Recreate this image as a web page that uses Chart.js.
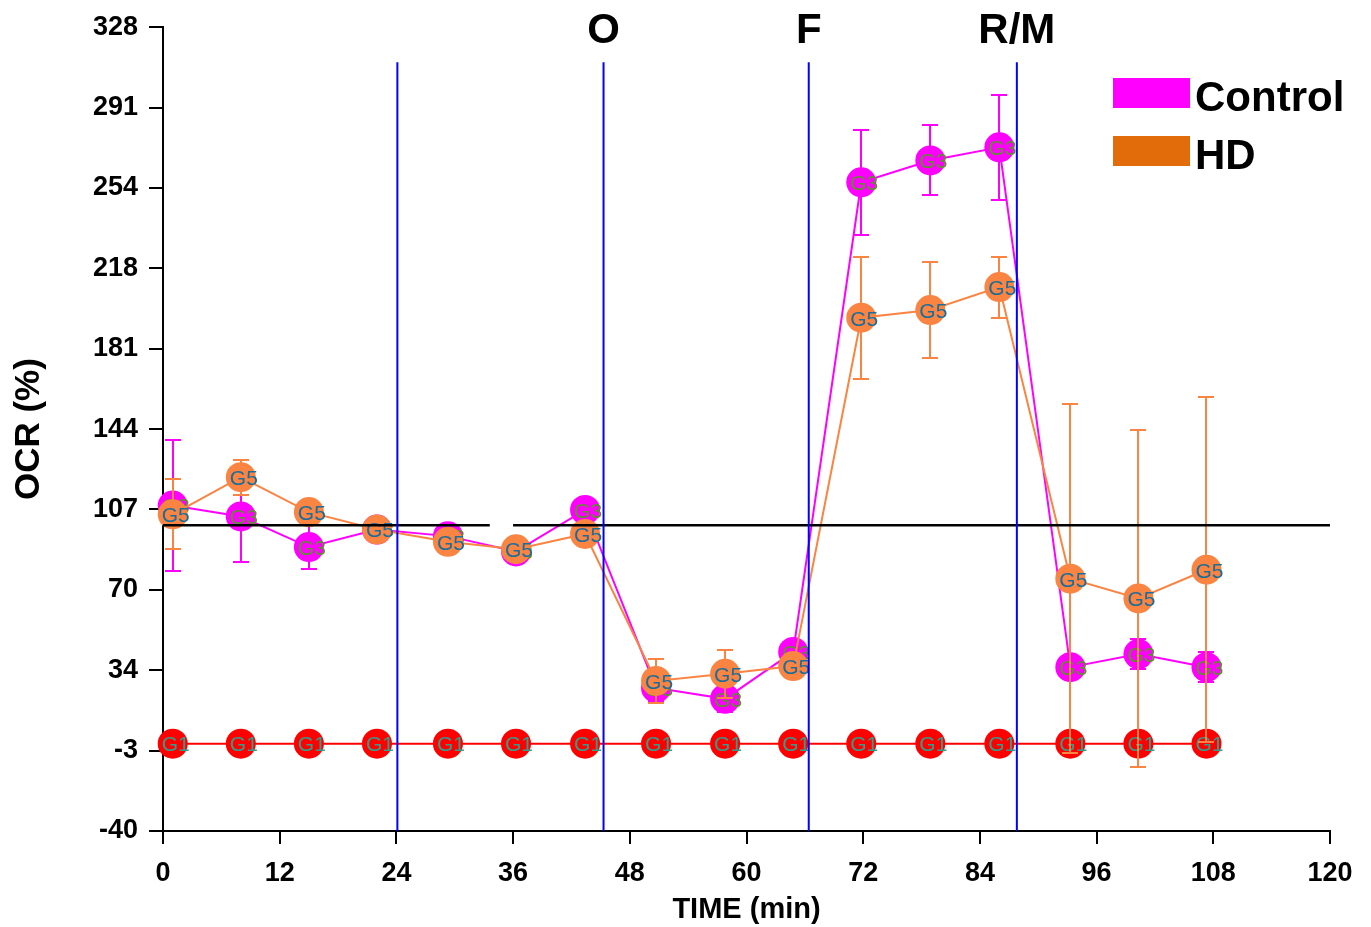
<!DOCTYPE html>
<html>
<head>
<meta charset="utf-8">
<title>OCR (%)</title>
<script src="https://cdn.jsdelivr.net/npm/chart.js@4.4.0/dist/chart.umd.min.js"></script>
<style>
  html, body { margin: 0; padding: 0; background: #fff; }
  canvas { display: block; }
</style>
</head>
<body>
<canvas id="ocrChart" width="1371" height="927"></canvas>
<script>
// measurement times (min)
const times = [1, 8, 15, 22, 29.3, 36.3, 43.4, 50.7, 57.8, 64.8, 71.8, 78.9, 86, 93.3, 100.3, 107.3];

// OCR (% of baseline) with error (+/-)
const controlOcr = [109, 104, 90, 98, 95, 88, 107, 25.5, 20.5, 42, 257, 267, 273, 35, 41, 35];
const controlErr = [30, 21, 10, 3, 4, 3, 4, 6, 6, 3, 24, 16, 24, 3, 7, 7];
const hdOcr = [105, 122, 106, 98, 92.4, 89, 96, 28.7, 32, 35.5, 195, 198.5, 209, 75.5, 66.5, 79.6];
const hdErr = [16, 8, 4, 2, 3, 3, 4, 10, 11, 3, 28, 22, 14, 80, 77, 79];
const g1Ocr = [0, 0, 0, 0, 0, 0, 0, 0, 0, 0, 0, 0, 0, 0, 0, 0];

// injection markers
const injectionTimes = [24.1, 45.3, 66.4, 87.8];
const injectionLabels = ["", "O", "F", "R/M"];
const injectionTop = 312;

// 100 % reference line, drawn with a small gap
const baselineLevel = 100;
const baselineSegments = [[0, 33.6], [36, 120]];

// axis ticks
const yTickValues = [-40, -3.2, 33.6, 70.4, 107.2, 144, 180.8, 217.6, 254.4, 291.2, 328];
const yTickLabels = ["-40", "-3", "34", "70", "107", "144", "181", "218", "254", "291", "328"];

const FONT = "'Liberation Sans', Arial, sans-serif";
const MAGENTA = "#ff00ff";
const ORANGE = "#fa8442";
const RED = "#ff0000";
const BLUE = "#0000ff";

const toPoints = (vals) => vals.map((v, i) => ({ x: times[i], y: v }));

function seriesDataset(label, vals, errs, color, tag, tagColor, order) {
  return {
    label,
    data: toPoints(vals),
    errs,
    tag,
    tagColor,
    borderColor: color,
    backgroundColor: color,
    pointBackgroundColor: color,
    pointBorderWidth: 0,
    pointRadius: 15,
    pointHoverRadius: 15,
    borderWidth: 2,
    showLine: true,
    tension: 0,
    clip: false,
    order,
  };
}

const injectionSets = injectionTimes.map((t) => ({
  label: "injection",
  data: [{ x: t, y: -40 }, { x: t, y: injectionTop }],
  borderColor: BLUE,
  borderWidth: 2,
  pointRadius: 0,
  showLine: true,
  order: 0,
}));

const baselineSets = baselineSegments.map(([a, b]) => ({
  label: "baseline",
  data: [{ x: a, y: baselineLevel }, { x: b, y: baselineLevel }],
  borderColor: "#000",
  borderWidth: 2.5,
  pointRadius: 0,
  showLine: true,
  order: 1,
}));

// error bars + the little text inside each marker
const markerDecor = {
  id: "markerDecor",
  afterDatasetDraw(chart, args) {
    const ds = chart.data.datasets[args.index];
    const ctx = chart.ctx;
    const ys = chart.scales.y;
    if (ds.errs) {
      ctx.save();
      ctx.strokeStyle = ds.borderColor;
      ctx.lineWidth = 2;
      args.meta.data.forEach((pt, i) => {
        const e = ds.errs[i];
        if (!e) return;
        const v = ds.data[i].y;
        const top = Math.round(ys.getPixelForValue(v + e));
        const bot = Math.round(ys.getPixelForValue(v - e));
        const x = Math.round(pt.x);
        ctx.beginPath();
        ctx.moveTo(x, top); ctx.lineTo(x, bot);
        ctx.moveTo(x - 8, top); ctx.lineTo(x + 8, top);
        ctx.moveTo(x - 8, bot); ctx.lineTo(x + 8, bot);
        ctx.stroke();
      });
      ctx.restore();
    }
    if (ds.tag) {
      ctx.save();
      ctx.font = "21px " + FONT;
      ctx.fillStyle = ds.tagColor;
      ctx.textAlign = "center";
      ctx.textBaseline = "middle";
      args.meta.data.forEach((pt) => ctx.fillText(ds.tag, pt.x + 3, pt.y + 2));
      ctx.restore();
    }
  },
};

// O / F / R/M labels and the legend
const overlay = {
  id: "overlay",
  afterDraw(chart) {
    const ctx = chart.ctx;
    const xs = chart.scales.x;
    const area = chart.chartArea;
    ctx.save();
    ctx.fillStyle = "#000";
    ctx.font = "bold 42px " + FONT;
    ctx.textAlign = "center";
    ctx.textBaseline = "alphabetic";
    injectionTimes.forEach((t, i) => {
      if (injectionLabels[i]) ctx.fillText(injectionLabels[i], xs.getPixelForValue(t), 43);
    });

    const items = [["Control", MAGENTA], ["HD", "#e36c0a"]];
    const left = area.right - 217;
    ctx.textAlign = "left";
    ctx.font = "bold 42px " + FONT;
    items.forEach(([txt, col], i) => {
      const top = 78 + i * 58;
      ctx.fillStyle = col;
      ctx.fillRect(left, top, 77, 30);
      ctx.fillStyle = "#000";
      ctx.fillText(txt, left + 82, top + 33);
    });
    ctx.restore();
  },
};

const tickFont = { family: FONT, size: 27, weight: "bold" };

new Chart(document.getElementById("ocrChart"), {
  type: "scatter",
  data: {
    datasets: [
      ...injectionSets,
      ...baselineSets,
      seriesDataset("HD", hdOcr, hdErr, ORANGE, "G5", "#1b6d9c", 2),
      seriesDataset("Control", controlOcr, controlErr, MAGENTA, "G3", "#5d8f2c", 3),
      seriesDataset("G1", g1Ocr, null, RED, "G1", "#2f9f8c", 4),
    ],
  },
  options: {
    responsive: false,
    animation: false,
    events: [],
    layout: { padding: { left: 0, right: 41, top: 22, bottom: 0 } },
    plugins: {
      legend: { display: false },
      tooltip: { enabled: false },
    },
    scales: {
      x: {
        type: "linear",
        min: 0,
        max: 120,
        ticks: { stepSize: 12, color: "#000", font: tickFont, padding: 13, maxRotation: 0 },
        grid: { drawOnChartArea: false, color: "#000", lineWidth: 2, tickLength: 13 },
        border: { color: "#000", width: 2 },
        title: {
          display: true,
          text: "TIME (min)",
          color: "#000",
          font: { family: FONT, size: 29, weight: "bold" },
          padding: { top: 0, bottom: 0 },
        },
        afterFit: (s) => { s.height = 96; },
      },
      y: {
        type: "linear",
        min: -40,
        max: 328,
        afterBuildTicks: (s) => { s.ticks = yTickValues.map((v) => ({ value: v })); },
        ticks: {
          color: "#000",
          font: tickFont,
          padding: 11,
          callback: (v, i) => yTickLabels[i],
        },
        grid: { drawOnChartArea: false, color: "#000", lineWidth: 2, tickLength: 14 },
        border: { color: "#000", width: 2 },
        title: {
          display: true,
          text: "OCR (%)",
          color: "#000",
          font: { family: FONT, size: 35, weight: "bold" },
          padding: { top: 8, bottom: 0 },
        },
        afterFit: (s) => { s.width = 163; },
      },
    },
  },
  plugins: [markerDecor, overlay],
});
</script>
</body>
</html>
